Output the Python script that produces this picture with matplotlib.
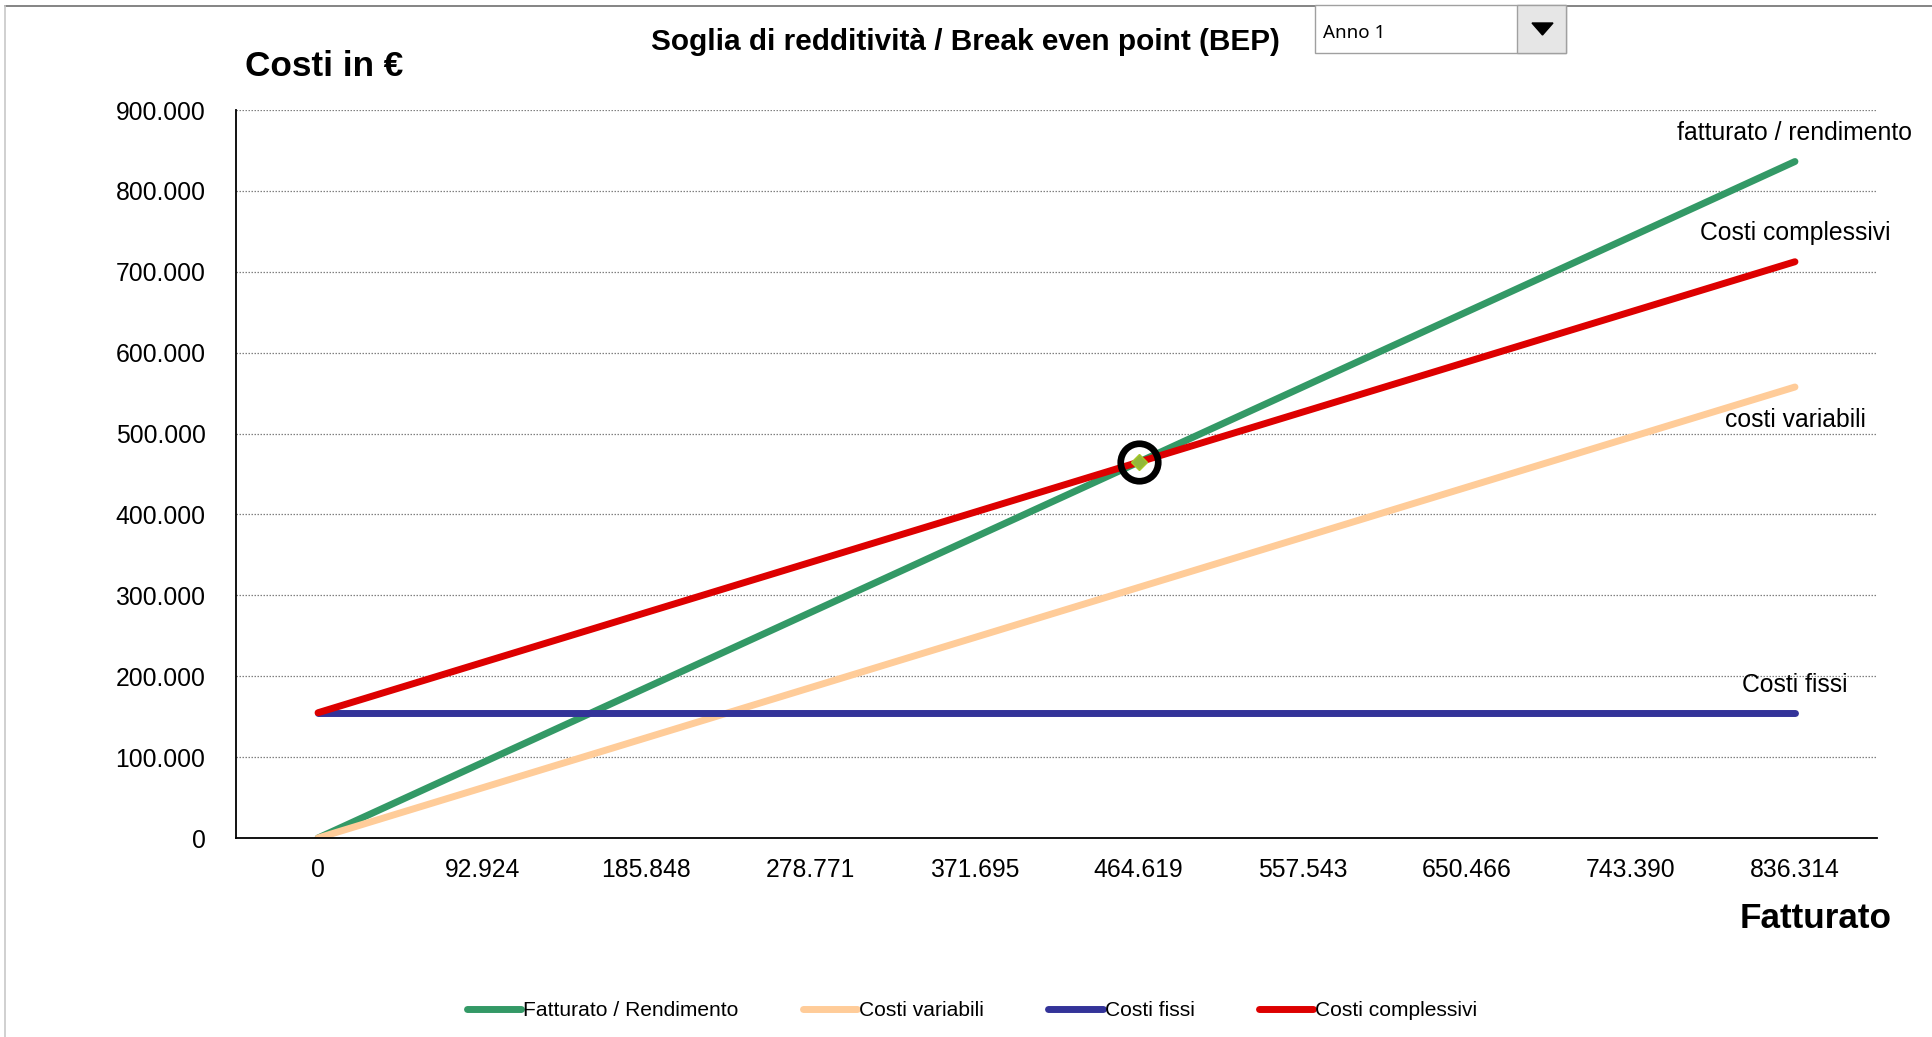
import matplotlib
matplotlib.use("Agg")
import matplotlib.pyplot as plt
from matplotlib.patches import Rectangle, Polygon
from matplotlib.lines import Line2D

# ---------------- data ----------------
categories = ["0", "92.924", "185.848", "278.771", "371.695",
              "464.619", "557.543", "650.466", "743.390", "836.314"]
fatturato = [0, 92924, 185848, 278771, 371695, 464619, 557543, 650466, 743390, 836314]
costi_variabili = [0, 61949, 123899, 185847, 247797, 309746, 371695, 433644, 495593, 557543]
costi_fissi = [154873, 154873, 154873, 154873, 154873, 154873, 154873, 154873, 154873, 154873]
costi_complessivi = [154873, 216822, 278772, 340720, 402670, 464619, 526568, 588517, 650466, 712416]
bep_index = 5
bep_value = 464619
y_ticks = [0, 100000, 200000, 300000, 400000, 500000, 600000, 700000, 800000, 900000]
y_ticklabels = ["0", "100.000", "200.000", "300.000", "400.000",
                "500.000", "600.000", "700.000", "800.000", "900.000"]
series_names = ["Fatturato / Rendimento", "Costi variabili", "Costi fissi", "Costi complessivi"]
end_labels = ["fatturato / rendimento", "costi variabili", "Costi fissi", "Costi complessivi"]
colors = ["#339966", "#FFCC99", "#333399", "#DD0000"]

plt.rcParams['font.family'] = ['Liberation Sans', 'DejaVu Sans']

W, H = 1932, 1037
fig = plt.figure(figsize=(W / 100, H / 100), dpi=100)
fig.patch.set_facecolor("white")


def fx(px):
    return px / W


def fy(py):
    return 1 - py / H


ax_l, ax_r, ax_t, ax_b = 236, 1877, 110, 838
ax = fig.add_axes([fx(ax_l), fy(ax_b), (ax_r - ax_l) / W, (ax_b - ax_t) / H])

x = list(range(len(categories)))
series = [fatturato, costi_variabili, costi_fissi, costi_complessivi]
handles = []
for vals, c, name in zip(series, colors, series_names):
    ln, = ax.plot(x, vals, color=c, lw=5, solid_capstyle="round",
                  solid_joinstyle="round", label=name, zorder=3)
    handles.append(ln)

# break even point
ax.plot([bep_index], [bep_value], marker="D", ms=8, mfc="#92b83a",
        mec="#a6c82a", mew=1, ls="none", zorder=5)
ax.plot([bep_index], [bep_value], marker="o", ms=27, mfc="none",
        mec="black", mew=4.8, ls="none", zorder=6)

# end labels
last = len(categories) - 1
offsets = [20.5, -24, 20, 20.5]
for vals, lab, off in zip(series, end_labels, offsets):
    ax.annotate(lab, xy=(last, vals[-1]), xytext=(0, off), textcoords="offset points",
                ha="center", va="center", fontsize=17.8, annotation_clip=False)

ax.set_xlim(-0.5, len(categories) - 0.5)
ax.set_ylim(0, 900000)
ax.set_xticks(x)
ax.set_xticklabels(categories, fontsize=17.8)
ax.set_yticks(y_ticks)
ax.set_yticklabels(y_ticklabels, fontsize=17.8)
ax.tick_params(axis="both", length=0)
ax.tick_params(axis="y", pad=22)
ax.tick_params(axis="x", pad=14.5)
ax.yaxis.grid(True, color="#808080", lw=0.9, ls=(0, (1.2, 1.2)))
ax.set_axisbelow(True)
for s in ["top", "right"]:
    ax.spines[s].set_visible(False)
for s in ["left", "bottom"]:
    ax.spines[s].set_color("black")
    ax.spines[s].set_linewidth(1.3)
ax.spines["bottom"].set_zorder(4)

# titles
fig.text(fx(965), fy(41.5), "Soglia di redditività / Break even point (BEP)",
         ha="center", va="center", fontsize=21.4, fontweight="bold")
fig.text(fx(245), fy(66), "Costi in €", ha="left", va="center",
         fontsize=25.3, fontweight="bold")
fig.text(fx(1892), fy(919), "Fatturato", ha="right", va="center",
         fontsize=25.3, fontweight="bold")

# legend
fig.legend(handles=handles, loc="center", bbox_to_anchor=(fx(972), fy(1011)),
           ncol=4, frameon=False, fontsize=15.1, handlelength=2.6,
           handletextpad=0.1, columnspacing=3.05)

# outer frame lines
fig.add_artist(Line2D([fx(5), 1], [fy(6), fy(6)], color="#707070", lw=1.2))
fig.add_artist(Line2D([fx(5), fx(5)], [fy(6), 0], color="#c8c8c8", lw=1.2))

# dropdown box
fig.add_artist(Rectangle((fx(1315), fy(53)), 251 / W, 48 / H, transform=fig.transFigure,
                         facecolor="white", edgecolor="#a0a0a0", lw=1, zorder=10))
fig.add_artist(Rectangle((fx(1517), fy(53)), 49 / W, 48 / H, transform=fig.transFigure,
                         facecolor="#e6e6e6", edgecolor="#a0a0a0", lw=1, zorder=11))
fig.add_artist(Polygon([(fx(1532), fy(23)), (fx(1553), fy(23)), (fx(1542.5), fy(35))],
                       closed=True, transform=fig.transFigure, facecolor="black",
                       edgecolor="black", zorder=12))
fig.text(fx(1323), fy(33), "Anno 1", ha="left", va="center", fontsize=13.5,
         family=["Noto Sans", "DejaVu Sans"], zorder=13)

fig.savefig("out.png", dpi=100)
